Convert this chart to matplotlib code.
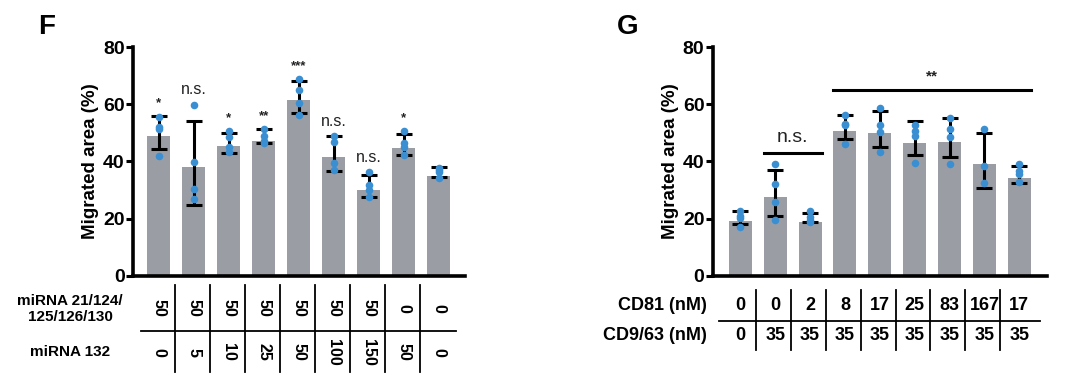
import matplotlib
matplotlib.use("Agg")
from matplotlib import pyplot as plt
from matplotlib import transforms
import numpy as np

plt.rcParams['font.family'] = ['Liberation Sans', 'DejaVu Sans']
plt.rcParams['font.weight'] = 'bold'

# ---- panel F data ----
f_means = [48.8, 38.1, 45.3, 47.3, 61.4, 41.5, 30.2, 44.8, 34.9]
f_upper = [55.9, 54.0, 50.0, 51.4, 68.1, 48.8, 35.2, 49.7, 38.0]
f_lower = [44.4, 24.7, 43.1, 46.4, 57.1, 36.6, 27.7, 42.4, 34.7]
f_points = [
    [55.6, 52.1, 51.5, 41.9],
    [59.9, 39.8, 30.3, 26.9],
    [50.6, 48.4, 45.1, 43.4],
    [51.2, 49.0, 47.0, 46.5],
    [68.7, 65.0, 60.5, 56.4],
    [48.8, 46.9, 39.3, 37.0],
    [36.4, 31.7, 30.0, 27.7],
    [50.6, 46.3, 45.1, 42.2],
    [37.9, 37.0, 36.4, 34.1],
]
f_sig = ['*', 'n.s.', '*', '**', '***', 'n.s.', 'n.s.', '*', '']
f_row1 = ['50', '50', '50', '50', '50', '50', '50', '0', '0']
f_row2 = ['0', '5', '10', '25', '50', '100', '150', '50', '0']
f_row_labels = ['miRNA 21/124/\n125/126/130', 'miRNA 132']

# ---- panel G data ----
g_means = [19.2, 27.7, 19.0, 50.6, 49.8, 46.5, 46.9, 39.1, 34.1]
g_upper = [22.8, 37.2, 22.1, 56.3, 57.7, 54.0, 55.1, 50.1, 38.4]
g_lower = [18.3, 20.9, 18.7, 47.8, 44.9, 42.1, 41.6, 30.8, 32.6]
g_points = [
    [22.8, 20.9, 20.1, 17.2],
    [39.1, 32.0, 25.9, 19.5],
    [22.7, 20.5, 19.5, 18.8],
    [56.2, 53.0, 52.6, 46.0],
    [58.8, 52.7, 50.3, 43.3],
    [52.7, 50.7, 48.8, 39.3],
    [55.3, 51.4, 48.4, 39.1],
    [51.3, 38.4, 32.6],
    [39.1, 36.6, 35.8, 32.9],
]
g_row1 = ['0', '0', '2', '8', '17', '25', '83', '167', '17']
g_row2 = ['0', '35', '35', '35', '35', '35', '35', '35', '35']
g_row_labels = ['CD81 (nM)', 'CD9/63 (nM)']
g_brackets = [(1, 2, 42.8, 'n.s.'), (3, 8, 64.9, '**')]

bar_col = '#9b9da4'
dot_col = '#3a8fd2'
bw = 0.66

fig = plt.figure(figsize=(10.8, 3.76), dpi=100)
axF = fig.add_axes([0.123, 0.266, 0.308, 0.609])
axG = fig.add_axes([0.660, 0.266, 0.309, 0.609])


def draw_bars(ax, means, upper, lower, points):
    x = np.arange(len(means))
    m = np.array(means)
    yerr = [m - np.array(lower), np.array(upper) - m]
    ax.bar(x, m, width=bw, color=bar_col, zorder=1)
    ax.errorbar(x, m, yerr=yerr, fmt='none', ecolor='black', elinewidth=2.2,
                capsize=5.5, capthick=2.2, zorder=3)
    for i, pts in enumerate(points):
        ax.scatter([i] * len(pts), pts, s=30, color=dot_col, zorder=4, linewidths=0)
    ax.set_ylim(0, 80)
    ax.set_yticks([0, 20, 40, 60, 80])
    ax.set_xticks([])
    for s in ['top', 'right']:
        ax.spines[s].set_visible(False)
    for s in ['left', 'bottom']:
        ax.spines[s].set_linewidth(2.6)
    ax.tick_params(axis='y', width=2.2, length=5, labelsize=14, pad=1)
    for lab in ax.get_yticklabels():
        lab.set_fontweight('bold')
    ax.set_ylabel('Migrated area (%)', fontsize=13.5, fontweight='bold', labelpad=3)


draw_bars(axF, f_means, f_upper, f_lower, f_points)
axF.set_xlim(-0.743, 8.77)
draw_bars(axG, g_means, g_upper, g_lower, g_points)
axG.set_xlim(-0.79, 8.78)

# significance on F
for i, s in enumerate(f_sig):
    if not s:
        continue
    top = max(f_upper[i], max(f_points[i]))
    if s == 'n.s.':
        axF.text(i, top + 2.5, s, ha='center', va='bottom', fontsize=11.5,
                 fontweight='normal', color='#222222')
    else:
        axF.text(i, top + 2.5, s, ha='center', va='bottom', fontsize=9.5,
                 fontweight='bold', color='#222222')

# brackets on G
for a, b, y, s in g_brackets:
    axG.plot([a - bw / 2, b + bw / 2], [y, y], color='black', lw=2.2, clip_on=False)
    if s == 'n.s.':
        axG.text((a + b) / 2, y + 2.5, s, ha='center', va='bottom', fontsize=14,
                 fontweight='normal', color='#222222')
    else:
        axG.text((a + b) / 2, y + 2.2, s, ha='center', va='bottom', fontsize=11,
                 fontweight='bold', color='#222222')

# table under F
trF = transforms.blended_transform_factory(axF.transData, fig.transFigure)
n = len(f_row1)
for i in range(n):
    axF.text(i, 1 - 308 / 376, f_row1[i], transform=trF, rotation=-90,
             ha='center', va='center', fontsize=11.5, fontweight='bold')
    axF.text(i, 1 - 352 / 376, f_row2[i], transform=trF, rotation=-90,
             ha='center', va='center', fontsize=11.5, fontweight='bold')
for i in range(n - 1):
    axF.plot([i + 0.46, i + 0.46], [1 - 285 / 376, 1 - 372 / 376], transform=trF,
             color='black', lw=1.3, clip_on=False)
axF.plot([-0.5, 8.5], [1 - 331 / 376, 1 - 331 / 376], transform=trF,
         color='black', lw=1.3, clip_on=False)
fig.text(70 / 1080, 1 - 309 / 376, f_row_labels[0], ha='center', va='center',
         fontsize=11, fontweight='bold', linespacing=1.25)
fig.text(70 / 1080, 1 - 352 / 376, f_row_labels[1], ha='center', va='center',
         fontsize=11, fontweight='bold')

# table under G
trG = transforms.blended_transform_factory(axG.transData, fig.transFigure)
n = len(g_row1)
for i in range(n):
    axG.text(i, 1 - 306 / 376, g_row1[i], transform=trG, ha='center', va='center',
             fontsize=13, fontweight='bold')
    axG.text(i, 1 - 336 / 376, g_row2[i], transform=trG, ha='center', va='center',
             fontsize=13, fontweight='bold')
for i in range(n - 1):
    axG.plot([i + 0.45, i + 0.45], [1 - 290 / 376, 1 - 350 / 376], transform=trG,
             color='black', lw=1.3, clip_on=False)
axG.plot([-0.6, 8.6], [1 - 321 / 376, 1 - 321 / 376], transform=trG,
         color='black', lw=1.3, clip_on=False)
fig.text(707 / 1080, 1 - 306 / 376, g_row_labels[0], ha='right', va='center',
         fontsize=13, fontweight='bold')
fig.text(707 / 1080, 1 - 336 / 376, g_row_labels[1], ha='right', va='center',
         fontsize=13, fontweight='bold')

# panel letters
fig.text(47 / 1080, 1 - 27 / 376, 'F', ha='center', va='center', fontsize=20,
         fontweight='bold')
fig.text(628 / 1080, 1 - 27 / 376, 'G', ha='center', va='center', fontsize=20,
         fontweight='bold')

fig.savefig('out.png', dpi=100)
